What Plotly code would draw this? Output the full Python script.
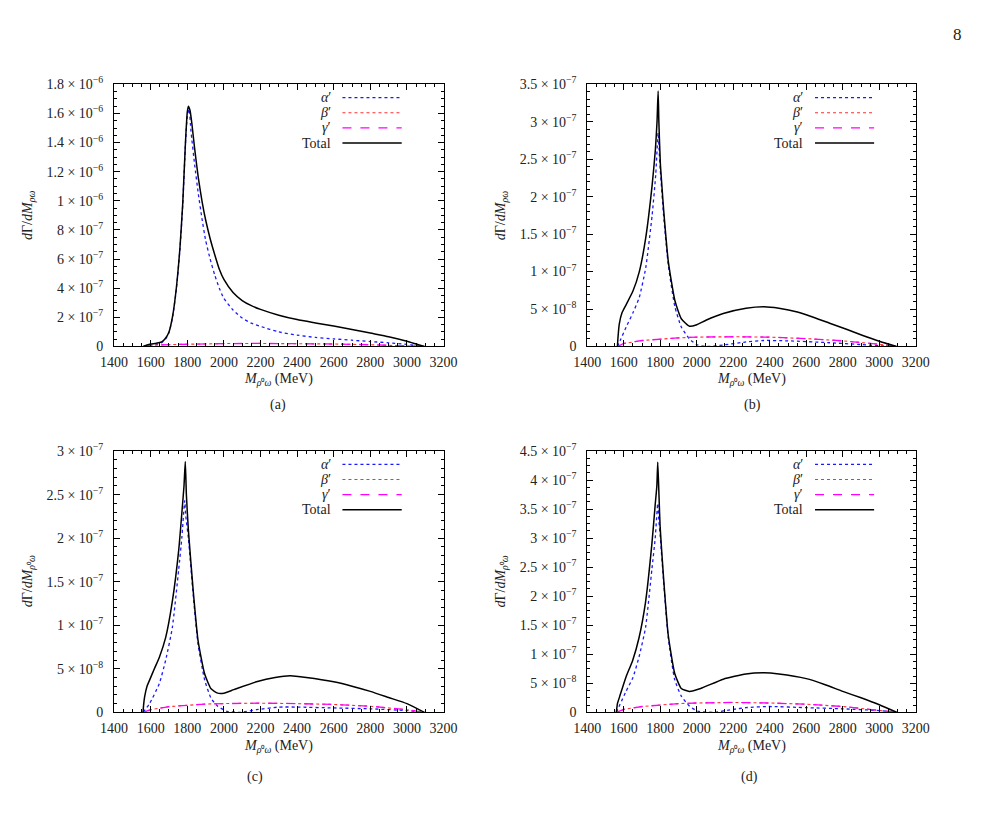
import plotly.graph_objects as go

W, H = 991, 823

# ---------------- data (dGamma/dM in units of 1e-7) ----------------
# Panel (a)
a_tot_M = [1560, 1580, 1600, 1630, 1660, 1680, 1700, 1720, 1740, 1760, 1775, 1790, 1800, 1806, 1815,
           1825, 1840, 1860, 1880, 1900, 1925, 1950, 1975, 2000, 2050, 2100, 2150, 2200, 2300, 2400,
           2500, 2600, 2700, 2800, 2900, 3000, 3050, 3095]
a_tot = [0, 0.1, 0.17, 0.22, 0.32, 0.55, 1.0, 2.1, 4.0, 6.8, 9.8, 14.0, 16.1, 16.5, 16.2,
         15.3, 13.6, 11.6, 10.0, 8.7, 7.4, 6.3, 5.3, 4.6, 3.7, 3.15, 2.8, 2.55, 2.15, 1.85,
         1.62, 1.4, 1.17, 0.92, 0.67, 0.36, 0.17, 0]
a_alp_M = [1560, 1580, 1600, 1630, 1660, 1680, 1700, 1720, 1740, 1760, 1775, 1790, 1800, 1810, 1820,
           1840, 1860, 1880, 1900, 1925, 1950, 1975, 2000, 2050, 2100, 2150, 2200, 2300, 2400, 2500,
           2600, 2700, 2800, 2900, 3000, 3050, 3095]
a_alp = [0, 0.02, 0.05, 0.12, 0.26, 0.5, 0.95, 2.05, 3.9, 6.7, 9.7, 13.9, 15.8, 16.3, 14.8,
         12.5, 10.5, 8.8, 7.3, 6.0, 4.9, 4.0, 3.3, 2.5, 1.95, 1.6, 1.38, 1.0, 0.78, 0.62,
         0.52, 0.43, 0.34, 0.25, 0.14, 0.06, 0]
a_bg_M = [1560, 1600, 1700, 1800, 1900, 2000, 2200, 2400, 2600, 2800, 2900, 3000, 3095]
a_bet = [0, 0.08, 0.13, 0.17, 0.19, 0.2, 0.21, 0.2, 0.17, 0.12, 0.09, 0.05, 0]
a_gam = [0, 0.08, 0.13, 0.17, 0.19, 0.2, 0.21, 0.2, 0.17, 0.12, 0.09, 0.05, 0]

# Panel (b)
b_tot_M = [1565, 1568, 1575, 1590, 1613, 1650, 1685, 1720, 1755, 1773, 1782, 1788, 1792, 1800, 1810,
           1818, 1844, 1880, 1915, 1960, 2000, 2050, 2145, 2270, 2367, 2450, 2551, 2650, 2728, 2820,
           2906, 3000, 3095]
b_tot = [0, 0.12, 0.3, 0.45, 0.56, 0.74, 1.0, 1.45, 2.15, 2.63, 3.0, 3.41, 3.0, 2.45, 2.1,
         1.83, 1.13, 0.61, 0.37, 0.27, 0.29, 0.35, 0.44, 0.51, 0.53, 0.51, 0.46, 0.38, 0.31, 0.23,
         0.15, 0.07, 0]
b_alp_M = [1565, 1580, 1613, 1650, 1684, 1720, 1755, 1775, 1788, 1795, 1800, 1818, 1844, 1880, 1915,
           1960, 2004, 2057, 2145, 2270, 2367, 2500, 2728, 2906, 3000, 3095]
b_alp = [0, 0.08, 0.26, 0.45, 0.65, 1.05, 1.75, 2.3, 2.85, 2.55, 2.35, 1.75, 1.08, 0.53, 0.26,
         0.1, 0.02, 0.0, 0.02, 0.06, 0.08, 0.075, 0.05, 0.025, 0.01, 0]
b_bg_M = [1565, 1600, 1700, 1800, 1900, 2000, 2200, 2400, 2600, 2800, 2900, 3000, 3095]
b_bet = [0, 0.04, 0.08, 0.1, 0.115, 0.125, 0.13, 0.125, 0.105, 0.075, 0.055, 0.03, 0]
b_gam = [0, 0.04, 0.08, 0.1, 0.115, 0.125, 0.13, 0.125, 0.105, 0.075, 0.055, 0.03, 0]

# Panel (c)
c_tot_M = [1558, 1562, 1567, 1580, 1594, 1620, 1647, 1682, 1718, 1753, 1771, 1782, 1789, 1795, 1806,
           1833, 1859, 1895, 1930, 1966, 2000, 2054, 2178, 2280, 2363, 2450, 2600, 2700, 2800, 2900,
           3000, 3095]
c_tot = [0, 0.1, 0.18, 0.3, 0.37, 0.5, 0.63, 0.86, 1.27, 1.86, 2.31, 2.6, 2.88, 2.5, 2.09,
         1.38, 0.82, 0.44, 0.27, 0.22, 0.22, 0.26, 0.35, 0.4, 0.42, 0.4, 0.35, 0.3, 0.24, 0.17,
         0.1, 0]
c_alp_M = [1558, 1594, 1647, 1682, 1718, 1753, 1770, 1786, 1792, 1806, 1833, 1859, 1895, 1930, 1966,
           2018, 2089, 2178, 2300, 2400, 2600, 2800, 3000, 3095]
c_alp = [0, 0.1, 0.33, 0.6, 0.97, 1.64, 2.0, 2.43, 2.25, 2.0, 1.33, 0.78, 0.37, 0.16, 0.07,
         0.01, 0.0, 0.03, 0.06, 0.06, 0.05, 0.04, 0.02, 0]
c_bg_M = [1558, 1600, 1700, 1800, 1900, 2000, 2200, 2400, 2600, 2800, 2900, 3000, 3095]
c_bet = [0, 0.03, 0.065, 0.08, 0.095, 0.1, 0.105, 0.1, 0.09, 0.07, 0.05, 0.03, 0]
c_gam = [0, 0.03, 0.065, 0.08, 0.095, 0.1, 0.105, 0.1, 0.09, 0.07, 0.05, 0.03, 0]

# Panel (d)
d_tot_M = [1559, 1565, 1577, 1612, 1648, 1683, 1719, 1754, 1772, 1781, 1786, 1792, 1799, 1817, 1843,
           1879, 1915, 1959, 2021, 2145, 2269, 2366, 2450, 2600, 2700, 2800, 2900, 3000, 3095]
d_tot = [0, 0.15, 0.27, 0.61, 0.89, 1.28, 1.9, 2.91, 3.58, 3.9, 4.31, 3.8, 3.19, 2.35, 1.34,
         0.67, 0.41, 0.36, 0.41, 0.57, 0.66, 0.68, 0.66, 0.58, 0.48, 0.36, 0.25, 0.13, 0]
d_alp_M = [1559, 1612, 1650, 1683, 1719, 1754, 1772, 1786, 1792, 1799, 1817, 1843, 1879, 1915, 1959,
           2004, 2092, 2200, 2269, 2394, 2600, 2800, 3000, 3095]
d_alp = [0, 0.36, 0.6, 0.95, 1.46, 2.47, 3.0, 3.6, 3.3, 3.05, 2.3, 1.3, 0.56, 0.28, 0.11,
         0.02, 0.0, 0.05, 0.08, 0.1, 0.08, 0.06, 0.03, 0]
d_bg_M = [1559, 1600, 1700, 1800, 1900, 2000, 2200, 2400, 2600, 2800, 2900, 3000, 3095]
d_bet = [0, 0.05, 0.1, 0.13, 0.15, 0.16, 0.17, 0.16, 0.14, 0.1, 0.07, 0.04, 0]
d_gam = [0, 0.05, 0.1, 0.13, 0.15, 0.16, 0.17, 0.16, 0.14, 0.1, 0.07, 0.04, 0]

# ---------------- tick labels ----------------
x_ticks = [1400, 1600, 1800, 2000, 2200, 2400, 2600, 2800, 3000, 3200]
a_yticks = [0, 2, 4, 6, 8, 10, 12, 14, 16, 18]
a_ylabels = ["0", "2 × 10<sup>−7</sup>", "4 × 10<sup>−7</sup>", "6 × 10<sup>−7</sup>",
             "8 × 10<sup>−7</sup>", "1 × 10<sup>−6</sup>", "1.2 × 10<sup>−6</sup>",
             "1.4 × 10<sup>−6</sup>", "1.6 × 10<sup>−6</sup>", "1.8 × 10<sup>−6</sup>"]
h_yticks = [0, 0.5, 1, 1.5, 2, 2.5, 3, 3.5, 4, 4.5]
h_ylabels = ["0", "5 × 10<sup>−8</sup>", "1 × 10<sup>−7</sup>", "1.5 × 10<sup>−7</sup>",
             "2 × 10<sup>−7</sup>", "2.5 × 10<sup>−7</sup>", "3 × 10<sup>−7</sup>",
             "3.5 × 10<sup>−7</sup>", "4 × 10<sup>−7</sup>", "4.5 × 10<sup>−7</sup>"]

series_names = ["<i>α</i>′", "<i>β</i>′", "<i>γ</i>′", "Total"]
captions = ["(a)", "(b)", "(c)", "(d)"]

FONT = "Liberation Serif"
FS = 14

panels = [
    dict(tot_M=a_tot_M, tot=a_tot, alp_M=a_alp_M, alp=a_alp, bg_M=a_bg_M, bet=a_bet, gam=a_gam,
         ymax=18, yt=a_yticks, yl=a_ylabels, yminor=0.5, sub="<i>ρω</i>",
         box=(103, 442, 76, 344), cap=(272, 404), xt=378),
    dict(tot_M=b_tot_M, tot=b_tot, alp_M=b_alp_M, alp=b_alp, bg_M=b_bg_M, bet=b_bet, gam=b_gam,
         ymax=3.5, yt=h_yticks[:8], yl=h_ylabels[:8], yminor=0.1, sub="<i>ρω</i>",
         box=(590, 928, 76, 344), cap=(760, 404), xt=378),
    dict(tot_M=c_tot_M, tot=c_tot, alp_M=c_alp_M, alp=c_alp, bg_M=c_bg_M, bet=c_bet, gam=c_gam,
         ymax=3.0, yt=h_yticks[:7], yl=h_ylabels[:7], yminor=0.1, sub="<i>ρ</i>⁰<i>ω</i>",
         box=(103, 442, 451, 718), cap=(248, 784), xt=753),
    dict(tot_M=d_tot_M, tot=d_tot, alp_M=d_alp_M, alp=d_alp, bg_M=d_bg_M, bet=d_bet, gam=d_gam,
         ymax=4.5, yt=h_yticks, yl=h_ylabels, yminor=0.125, sub="<i>ρ</i>⁰<i>ω</i>",
         box=(590, 928, 451, 718), cap=(757, 784), xt=753),
]

styles = [
    dict(color="#1a1aff", width=1.3, dash="dot"),
    dict(color="#ff3030", width=1.1, dash="dot"),
    dict(color="#ff00ff", width=1.3, dash="dash"),
    dict(color="black", width=1.5, dash="solid"),
]
shapes_kind = ["spline", "linear", "linear", "spline"]

fig = go.Figure()
annotations = []
shapes = []


def px_x(px):
    return px / W


def px_y(py):
    return 1 - py / H


for i, p in enumerate(panels):
    k = "" if i == 0 else str(i + 1)
    xa, ya = "x" + k, "y" + k
    series = [(p["alp_M"], p["alp"]), (p["bg_M"], p["bet"]), (p["bg_M"], p["gam"]), (p["tot_M"], p["tot"])]
    for (mx, vy), st, nm, sk in zip(series, styles, series_names, shapes_kind):
        line = dict(st)
        line["shape"] = sk
        if sk == "spline":
            line["smoothing"] = 0.5
        fig.add_trace(go.Scatter(x=mx, y=vy, mode="lines", line=line, name=nm, showlegend=False,
                                 xaxis=xa, yaxis=ya))
    x0, x1, y0, y1 = p["box"]
    axis_common = dict(showline=True, linecolor="black", linewidth=1, mirror="allticks",
                       ticks="inside", ticklen=6, tickcolor="black", tickwidth=1,
                       showgrid=False, zeroline=False,
                       tickfont=dict(family=FONT, size=FS, color="#222"))
    fig.update_layout(**{
        "xaxis" + k: dict(domain=[px_x(x0), px_x(x1)], anchor=ya, range=[1400, 3200],
                          tickvals=x_ticks, ticktext=[str(v) for v in x_ticks],
                          minor=dict(ticks="inside", ticklen=3, dtick=50, tickcolor="black"),
                          ticklabelstandoff=3, **axis_common),
        "yaxis" + k: dict(domain=[px_y(y1), px_y(y0)], anchor=xa, range=[0, p["ymax"]],
                          tickvals=p["yt"], ticktext=p["yl"],
                          minor=dict(ticks="inside", ticklen=3, dtick=p["yminor"], tick0=0,
                                     tickcolor="black"),
                          ticklabelstandoff=7, **axis_common),
    })
    # axis titles
    annotations.append(dict(x=px_x((x0 + x1) / 2), y=px_y(p["xt"]), xref="paper", yref="paper",
                            text="<i>M</i><sub><i>ρ</i>⁰<i>ω</i></sub> (MeV)",
                            showarrow=False, font=dict(family=FONT, size=FS, color="#222"),
                            xanchor="center", yanchor="middle"))
    annotations.append(dict(x=px_x(x0 - 88), y=px_y((y0 + y1) / 2), xref="paper", yref="paper",
                            text="<i>d</i>Γ/<i>dM</i><sub>" + p["sub"] + "</sub>", textangle=-90,
                            showarrow=False, font=dict(family=FONT, size=FS, color="#222"),
                            xanchor="center", yanchor="middle"))
    # caption
    annotations.append(dict(x=px_x(p["cap"][0]), y=px_y(p["cap"][1]), xref="paper", yref="paper",
                            text=captions[i], showarrow=False,
                            font=dict(family=FONT, size=FS, color="#222"),
                            xanchor="center", yanchor="middle"))
    # legend (key)
    bh = y1 - y0
    for r, (nm, st) in enumerate(zip(series_names, styles)):
        ry = 13.5 + r * 15.5
        yd = 1 - ry / bh
        annotations.append(dict(x=(328 - 103) / 339, y=yd, xref=xa + " domain", yref=ya + " domain",
                                text=nm, showarrow=False, xanchor="right", yanchor="middle",
                                font=dict(family=FONT, size=FS, color="#222")))
        shapes.append(dict(type="line", xref=xa + " domain", yref=ya + " domain",
                           x0=(338 - 103) / 339, x1=(399 - 103) / 339, y0=yd, y1=yd,
                           line=dict(color=st["color"], width=st["width"], dash=st["dash"])))

annotations.append(dict(x=px_x(971), y=px_y(25), xref="paper", yref="paper", text="8",
                        showarrow=False, font=dict(family=FONT, size=17, color="#222"),
                        xanchor="center", yanchor="middle"))

fig.update_layout(width=W, height=H, margin=dict(l=0, r=0, t=0, b=0),
                  paper_bgcolor="white", plot_bgcolor="white",
                  annotations=annotations, shapes=shapes, showlegend=False)

fig.write_html("out.html")
